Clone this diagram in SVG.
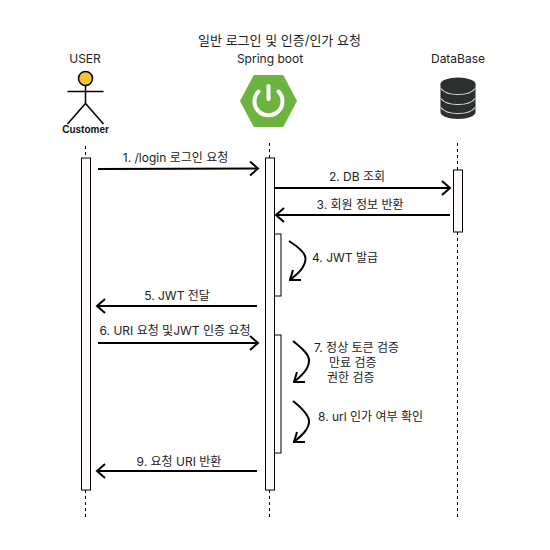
<svg xmlns="http://www.w3.org/2000/svg" width="550" height="550" viewBox="0 0 550 550">
<style>
text{font-family:Inter,"Noto Sans CJK KR",sans-serif;font-size:12px;fill:#222;text-anchor:middle}
.l{text-anchor:start}
.life{stroke:#000;stroke-width:1;stroke-dasharray:3 3;fill:none}
.act{fill:#fffafa;stroke:#000;stroke-width:1}
.msg{stroke:#000;stroke-width:2;fill:none}
.self{stroke:#000;stroke-width:2;fill:none}
</style>
<defs>
<marker id="arrow" markerUnits="userSpaceOnUse" markerWidth="14" markerHeight="16" refX="11" refY="8" orient="auto"><path d="M3 1L11 8L3 15" fill="none" stroke="#000" stroke-width="2"/></marker>
<marker id="selfarrow" markerUnits="userSpaceOnUse" markerWidth="18" markerHeight="18" refX="1" refY="14" orient="0"><path d="M4 4L1 14L12 14" fill="none" stroke="#000" stroke-width="2"/></marker>
</defs>
<text x="279.500" y="45" style="font-size:13px">일반 로그인 및 인증/인가 요청</text>
<g id="connectors">
<line class="life" x1="85.500" y1="146" x2="85.500" y2="158"/>
<line class="life" x1="85.500" y1="490" x2="85.500" y2="518"/>
<line class="life" x1="269.500" y1="143" x2="269.500" y2="158"/>
<line class="life" x1="269.500" y1="490" x2="269.500" y2="518"/>
<line class="life" x1="457.500" y1="143" x2="457.500" y2="170"/>
<line class="life" x1="457.500" y1="232" x2="457.500" y2="518"/>
<line class="msg" x1="98" y1="169" x2="258" y2="168.500" marker-end="url(#arrow)"/>
<line class="msg" x1="275" y1="188" x2="450" y2="188" marker-end="url(#arrow)"/>
<line class="msg" x1="450" y1="215" x2="276" y2="215" marker-end="url(#arrow)"/>
<line class="msg" x1="257" y1="306" x2="97" y2="306" marker-end="url(#arrow)"/>
<line class="msg" x1="98" y1="343" x2="258" y2="343" marker-end="url(#arrow)"/>
<line class="msg" x1="257" y1="471" x2="97" y2="471" marker-end="url(#arrow)"/>
<path class="self" d="M289 241C300 248 306 254 305.500 259C305 268 297 274 290 280" marker-end="url(#selfarrow)"/>
<path class="self" d="M293 341C303 349 309.500 355 309 361C308.500 370 301 376 294 382" marker-end="url(#selfarrow)"/>
<path class="self" d="M293 401C303 409 309.500 416 309 422C308.500 430 301 436 294 442" marker-end="url(#selfarrow)"/>
</g>
<g id="user">
<text x="85" y="63">USER</text>
<circle cx="85.500" cy="78.500" r="7" fill="#fdc131" stroke="#000" stroke-width="1.500"/>
<path d="M67.500 91.500H103.500M85.500 85.500V103.500M67.500 124L85.500 103.500L103.500 124" fill="none" stroke="#000" stroke-width="1.500"/>
<text x="85.500" y="133" style="font-weight:700;font-size:10px;fill:#111;font-family:'Liberation Sans',sans-serif">Customer</text>
<rect class="act" x="81.500" y="158" width="9" height="332"/>
</g>
<g id="spring">
<text x="270" y="63">Spring boot</text>
<path d="M254 75.500H283L296.500 101L283 126.500H254L240.500 101Z" fill="#6db33f" stroke="#6db33f" stroke-width="1" stroke-linejoin="round"/>
<path d="M258.500 91.500A14 14 0 1 0 278.500 91.500" fill="none" stroke="#fff" stroke-width="4" stroke-linecap="round"/>
<line x1="268.500" y1="86" x2="268.500" y2="99" stroke="#fff" stroke-width="4" stroke-linecap="round"/>
<rect class="act" x="265.500" y="158" width="9" height="332"/>
<rect class="act" x="274.500" y="234" width="6.500" height="62"/>
<rect class="act" x="274.500" y="335" width="6.500" height="118"/>
</g>
<g id="database">
<text x="458" y="63">DataBase</text>
<ellipse cx="458" cy="84" rx="17.500" ry="6.500" fill="#2b2f30"/>
<path d="M440.500 84V112C440.500 116 448 119 458 119C468 119 475.500 116 475.500 112V84Z" fill="#2b2f30"/>
<path d="M441 88.500C444 93 452 94.500 458 94.500C464 94.500 472 93 475 88.500M441 98.500C444 103 452 104.500 458 104.500C464 104.500 472 103 475 98.500M441 107.500C444 112 452 113.500 458 113.500C464 113.500 472 112 475 107.500" fill="none" stroke="#ddd" stroke-width="1.200"/>
<rect class="act" x="453.500" y="170" width="9" height="62"/>
</g>
<g id="labels">
<text x="175.500" y="162">1. /login 로그인 요청</text>
<text x="357" y="181">2. DB 조회</text>
<text x="360" y="209">3. 회원 정보 반환</text>
<text class="l" x="312" y="262">4. JWT 발급</text>
<text x="177" y="300">5. JWT 전달</text>
<text x="175" y="335">6. URI 요청 및JWT 인증 요청</text>
<text class="l" x="314" y="352">7. 정상 토큰 검증</text>
<text class="l" x="329" y="367">만료 검증</text>
<text class="l" x="327" y="382">권한 검증</text>
<text class="l" x="318" y="421">8. url 인가 여부 확인</text>
<text x="179" y="466">9. 요청 URI 반환</text>
</g>
</svg>
